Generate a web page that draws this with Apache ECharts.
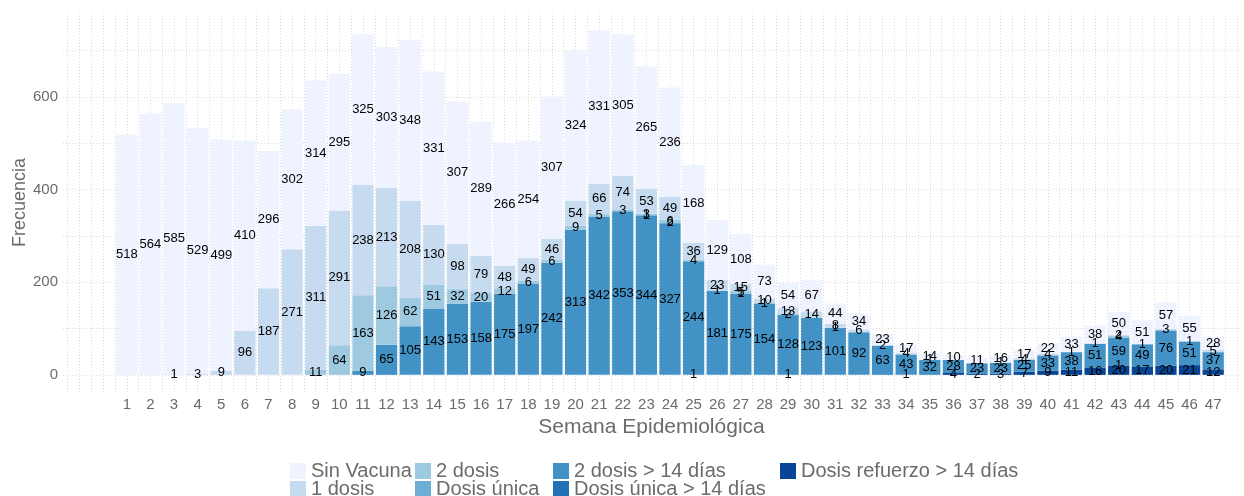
<!DOCTYPE html>
<html>
<head>
<meta charset="utf-8">
<title>Frecuencia por semana epidemiológica</title>
<script src="https://cdn.jsdelivr.net/npm/echarts@6/dist/echarts.min.js"></script>
<style>
  html, body { margin: 0; padding: 0; background: #fff; }
  #myChart { width: 1244px; height: 496px; }
</style>
</head>
<body>
<div id="myChart"></div>
<script>
  // semanas epidemiológicas
  const semanas = ['1', '2', '3', '4', '5', '6', '7', '8', '9', '10', '11', '12', '13', '14', '15', '16',
    '17', '18', '19', '20', '21', '22', '23', '24', '25', '26', '27', '28', '29', '30', '31', '32',
    '33', '34', '35', '36', '37', '38', '39', '40', '41', '42', '43', '44', '45', '46', '47']

  // valores por estado de vacunación
  const sinVacuna = [518, 564, 585, 529, 499, 410, 296, 302, 314, 295,
    325, 303, 348, 331, 307, 289, 266, 254, 307, 324,
    331, 305, 265, 236, 168, 129, 108, 73, 54, 67,
    44, 34, 23, 17, 14, 10, 11, 16, 17, 22,
    33, 38, 50, 51, 57, 55, 28]
  const unaDosis = [null, null, 1, 3, 9, 96, 187, 271, 311, 291,
    238, 213, 208, 130, 98, 79, 48, 49, 46, 54,
    66, 74, 53, 49, 36, 23, 15, 10, 13, 14,
    8, 6, 2, 4, 1, null, null, 1, 4, 4,
    1, 1, 2, 1, 3, 1, 5]
  const dosDosis = [null, null, null, null, null, null, null, null, 11, 64,
    163, 126, 62, 51, 32, 20, 12, 6, 6, 9,
    5, 3, 3, 6, 4, 1, 5, 1, 2, null,
    1, null, null, null, null, null, null, null, null, null,
    null, null, 4, null, null, null, null]
  const dosisUnica = [null, null, null, null, null, null, null, null, null, null,
    null, null, null, null, null, null, null, null, null, null,
    null, null, 1, 2, null, null, 1, null, null, null,
    null, null, null, null, null, null, null, null, null, null,
    null, null, null, null, null, null, null]
  const dosDosis14 = [null, null, null, null, null, null, null, null, null, null,
    9, 65, 105, 143, 153, 158, 175, 197, 242, 313,
    342, 353, 344, 327, 244, 181, 175, 154, 128, 123,
    101, 92, 63, 43, 32, 28, 23, 23, 25, 33,
    38, 51, 59, 49, 76, 51, 37]
  const dosisUnica14 = [null, null, null, null, null, null, null, null, null, null,
    null, null, null, null, null, null, null, null, null, null,
    null, null, null, null, 1, null, null, null, 1, null,
    null, null, null, 1, null, null, null, null, null, null,
    null, null, 1, null, null, null, null]
  const refuerzo14 = [null, null, null, null, null, null, null, null, null, null,
    null, null, null, null, null, null, null, null, null, null,
    null, null, null, null, null, null, null, null, null, null,
    null, null, null, null, null, 4, 2, 3, 7, 9,
    11, 16, 20, 17, 20, 21, 12]

  // marcas del eje y
  const yEtiquetas = [0, 200, 400, 600]
  const yLineas = [0, 100, 200, 300, 400, 500, 600, 700]

  const font = '"Liberation Sans", Arial, sans-serif'
  const gris = '#6b6b6b'
  const lineaGrid = {color: '#dcdcdc', type: [1, 2], width: 1}

  // lineas verticales cada media semana
  let xLineas = []
  for (let v = -1.5; v <= 48; v += 0.5) {
    xLineas.push(v)
  }

  function serieBarra (nombre, datos, color) {
    return {
      name: nombre,
      type: 'bar',
      stack: 'total',
      xAxisIndex: 1,
      yAxisIndex: 1,
      data: datos,
      barCategoryGap: '10%',
      itemStyle: {color: color},
      label: {
        show: true,
        position: 'inside',
        color: '#000',
        fontSize: 13,
        fontFamily: font,
        textBorderWidth: 0
      },
      emphasis: {disabled: true}
    }
  }

  function leyenda (nombre, left, top) {
    return {
      data: [nombre],
      left: left,
      top: top,
      icon: 'rect',
      itemWidth: 16,
      itemHeight: 16,
      selectedMode: false,
      padding: 0,
      textStyle: {color: gris, fontSize: 20, fontFamily: font}
    }
  }

  let myChart = echarts.init(document.getElementById('myChart'))
  myChart.setOption({
    backgroundColor: '#fff',
    animation: false,
    grid: [
      {left: 63, right: 4, top: 13, bottom: 104, outerBoundsMode: 'none'},
      {left: 115, right: 19, top: 13, bottom: 104, outerBoundsMode: 'none'}
    ],
    legend: [
      leyenda('Sin Vacuna', 290, 461),
      leyenda('1 dosis', 290, 479),
      leyenda('2 dosis', 415, 461),
      leyenda('Dosis única', 415, 479),
      leyenda('2 dosis > 14 días', 553, 461),
      leyenda('Dosis única > 14 días', 553, 479),
      leyenda('Dosis refuerzo > 14 días', 780, 461)
    ],
    xAxis: [
      {
        type: 'value',
        gridIndex: 0,
        min: -1.7,
        max: 48.135,
        axisLine: {show: false},
        axisTick: {show: false, customValues: xLineas},
        axisLabel: {show: false},
        splitLine: {show: true, lineStyle: lineaGrid},
        name: 'Semana Epidemiológica',
        nameLocation: 'middle',
        nameGap: 25,
        nameMoveOverlap: false,
        nameTextStyle: {color: gris, fontSize: 21, fontFamily: font}
      },
      {
        type: 'category',
        gridIndex: 1,
        data: semanas,
        axisLine: {show: false, onZero: false},
        axisTick: {show: false},
        axisLabel: {interval: 0, color: gris, fontSize: 15, fontFamily: font, margin: 5},
        splitLine: {show: false}
      }
    ],
    yAxis: [
      {
        type: 'value',
        gridIndex: 0,
        min: -37,
        max: 781,
        axisLine: {show: false},
        axisTick: {show: false, customValues: yLineas},
        axisLabel: {customValues: yEtiquetas, color: gris, fontSize: 15, fontFamily: font, margin: 5},
        splitLine: {show: true, lineStyle: lineaGrid},
        name: 'Frecuencia',
        nameLocation: 'middle',
        nameGap: 34,
        nameMoveOverlap: false,
        nameTextStyle: {color: gris, fontSize: 18, fontFamily: font}
      },
      {
        type: 'value',
        gridIndex: 1,
        min: -37,
        max: 781,
        show: false
      }
    ],
    series: [
      serieBarra('Dosis refuerzo > 14 días', refuerzo14, '#084594'),
      serieBarra('Dosis única > 14 días', dosisUnica14, '#2171B5'),
      serieBarra('2 dosis > 14 días', dosDosis14, '#4292C6'),
      serieBarra('Dosis única', dosisUnica, '#6BAED6'),
      serieBarra('2 dosis', dosDosis, '#9ECAE1'),
      serieBarra('1 dosis', unaDosis, '#C6DBEF'),
      serieBarra('Sin Vacuna', sinVacuna, '#EFF3FF')
    ]
  })
  window.onresize = myChart.resize
</script>
</body>
</html>
